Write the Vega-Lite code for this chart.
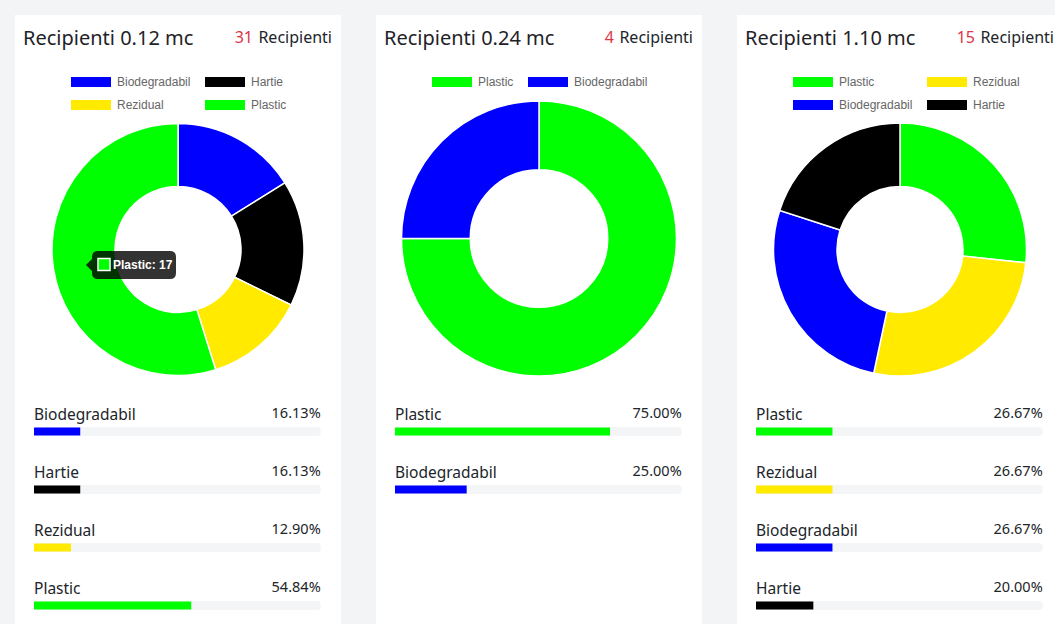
{
  "$schema": "https://vega.github.io/schema/vega-lite/v6.json",
  "background": "#f3f4f6",
  "padding": {"left": 15, "top": 15, "right": 0, "bottom": 0},
  "datasets": {
    "h1": [{"title": "Recipienti 0.12 mc", "count": 31, "unit": "Recipienti"}],
    "h2": [{"title": "Recipienti 0.24 mc", "count": 4, "unit": "Recipienti"}],
    "h3": [{"title": "Recipienti 1.10 mc", "count": 15, "unit": "Recipienti"}],
    "c1": [
      {"type": "Biodegradabil", "count": 5, "share": 0.16129, "rank": 1},
      {"type": "Hartie", "count": 5, "share": 0.16129, "rank": 2},
      {"type": "Rezidual", "count": 4, "share": 0.12903, "rank": 3},
      {"type": "Plastic", "count": 17, "share": 0.54839, "rank": 4}
    ],
    "c2": [
      {"type": "Plastic", "count": 3, "share": 0.75, "rank": 1},
      {"type": "Biodegradabil", "count": 1, "share": 0.25, "rank": 2}
    ],
    "c3": [
      {"type": "Plastic", "count": 4, "share": 0.26667, "rank": 1},
      {"type": "Rezidual", "count": 4, "share": 0.26667, "rank": 2},
      {"type": "Biodegradabil", "count": 4, "share": 0.26667, "rank": 3},
      {"type": "Hartie", "count": 3, "share": 0.2, "rank": 4}
    ],
    "tip": [{"label": "Plastic: 17"}]
  },
  "spacing": 35,
  "resolve": {"scale": {"color": "independent"}, "legend": {"color": "independent"}},
  "hconcat": [
    {
      "spacing": 0,
      "vconcat": [
        {
          "width": 326, "height": 103,
          "data": {"name": "h1"},
          "layer": [
            {"mark": {"type": "text", "align": "left", "baseline": "alphabetic", "font": "Noto Sans", "fontSize": 20, "color": "#1f2328", "dy": -22},
             "encoding": {"x": {"datum": 0, "type": "quantitative", "scale": {"domain": [0, 1], "range": [8, 317]}, "axis": null}, "text": {"field": "title"}}},
            {"mark": {"type": "text", "align": "right", "baseline": "alphabetic", "font": "Noto Sans", "fontSize": 16, "color": "#212529", "dy": -23.5},
             "encoding": {"x": {"datum": 1, "type": "quantitative"}, "text": {"field": "unit"}}},
            {"mark": {"type": "text", "align": "right", "baseline": "alphabetic", "font": "Noto Sans", "fontSize": 16, "color": "#dc3545", "dy": -23.5, "dx": -79},
             "encoding": {"x": {"datum": 1, "type": "quantitative"}, "text": {"field": "count"}}}
          ]
        },
        {
          "width": 326, "height": 263,
          "layer": [
            {"data": {"name": "h1"}, "mark": {"type": "rect", "color": "white"}, "encoding": {}},
            {"data": {"name": "c1"},
             "mark": {"type": "arc", "outerRadius": 126, "innerRadius": 63, "stroke": "white", "strokeWidth": 1.5},
             "encoding": {
               "theta": {"field": "count", "type": "quantitative", "stack": true},
               "order": {"field": "rank", "type": "quantitative"},
               "color": {"field": "type", "type": "nominal", "scale": {"domain": ["Biodegradabil", "Hartie", "Rezidual", "Plastic"], "range": ["#0000ff", "#000000", "#ffea00", "#00ff00"]}, "legend": {"title": null}}
             }},
            {"data": {"name": "tip"},
             "mark": {"type": "point", "shape": "M-0.857,-0.333L0.857,-0.333Q1,-0.333,1,-0.19L1,0.19Q1,0.333,0.857,0.333L-0.857,0.333Q-1,0.333,-1,0.19L-1,0.143L-1.143,0L-1,-0.143L-1,-0.19Q-1,-0.333,-0.857,-0.333Z", "size": 7056, "filled": true, "fill": "#000000", "fillOpacity": 0.8, "opacity": 1, "strokeWidth": 0, "xOffset": -44, "yOffset": 15.5},
             "encoding": {}},
            {"data": {"name": "tip"},
             "mark": {"type": "point", "shape": "square", "size": 144, "filled": true, "fill": "#00ff00", "stroke": "white", "strokeWidth": 1.5, "opacity": 1, "xOffset": -74, "yOffset": 15},
             "encoding": {}},
            {"data": {"name": "tip"},
             "mark": {"type": "text", "align": "left", "baseline": "middle", "dx": -65, "dy": 15, "font": "Liberation Sans", "fontWeight": "bold", "fontSize": 12, "color": "white"},
             "encoding": {"text": {"field": "label"}}}
          ]
        },
        {
          "width": 326, "height": 260,
          "data": {"name": "c1"},
          "encoding": {"y": {"field": "type", "type": "nominal", "sort": null, "scale": {"domain": ["Biodegradabil", "Hartie", "Rezidual", "Plastic"], "paddingInner": 0, "paddingOuter": 0.2414, "align": 0.768}, "axis": null}},
          "layer": [
            {"mark": {"type": "bar", "height": 9, "color": "#f4f5f7", "cornerRadius": 3},
             "encoding": {"x": {"datum": 1, "type": "quantitative", "scale": {"domain": [0, 1], "range": [19, 305.7]}, "axis": null}}},
            {"mark": {"type": "bar", "height": 8},
             "encoding": {"x": {"field": "share", "type": "quantitative"},
               "color": {"field": "type", "type": "nominal", "scale": {"domain": ["Biodegradabil", "Hartie", "Rezidual", "Plastic"], "range": ["#0000ff", "#000000", "#ffea00", "#00ff00"]}, "legend": {"title": null}}}},
            {"mark": {"type": "text", "align": "left", "baseline": "alphabetic", "dy": -11.5, "font": "Noto Sans", "fontSize": 15.5, "color": "#212529"},
             "encoding": {"x": {"datum": 0, "type": "quantitative"}, "text": {"field": "type"}}},
            {"mark": {"type": "text", "align": "right", "baseline": "alphabetic", "dy": -13.5, "font": "Noto Sans", "fontSize": 14.5, "color": "#212529"},
             "encoding": {"x": {"datum": 1, "type": "quantitative"}, "text": {"field": "share", "format": ".2%"}}}
          ]
        }
      ]
    },
    {
      "spacing": 0,
      "vconcat": [
        {
          "width": 326, "height": 81,
          "data": {"name": "h2"},
          "layer": [
            {"mark": {"type": "text", "align": "left", "baseline": "alphabetic", "font": "Noto Sans", "fontSize": 20, "color": "#1f2328", "dy": -11},
             "encoding": {"x": {"datum": 0, "type": "quantitative", "scale": {"domain": [0, 1], "range": [8, 317]}, "axis": null}, "text": {"field": "title"}}},
            {"mark": {"type": "text", "align": "right", "baseline": "alphabetic", "font": "Noto Sans", "fontSize": 16, "color": "#212529", "dy": -12.5},
             "encoding": {"x": {"datum": 1, "type": "quantitative"}, "text": {"field": "unit"}}},
            {"mark": {"type": "text", "align": "right", "baseline": "alphabetic", "font": "Noto Sans", "fontSize": 16, "color": "#dc3545", "dy": -12.5, "dx": -79},
             "encoding": {"x": {"datum": 1, "type": "quantitative"}, "text": {"field": "count"}}}
          ]
        },
        {
          "width": 326, "height": 285,
          "layer": [
            {"data": {"name": "h2"}, "mark": {"type": "rect", "color": "white"}, "encoding": {}},
            {"data": {"name": "c2"},
             "mark": {"type": "arc", "outerRadius": 137.5, "innerRadius": 68.75, "stroke": "white", "strokeWidth": 1.5},
             "encoding": {
               "theta": {"field": "count", "type": "quantitative", "stack": true},
               "order": {"field": "rank", "type": "quantitative"},
               "color": {"field": "type", "type": "nominal", "scale": {"domain": ["Plastic", "Biodegradabil"], "range": ["#00ff00", "#0000ff"]}, "legend": {"title": null}}
             }}
          ]
        },
        {
          "width": 326, "height": 232,
          "data": {"name": "c2"},
          "encoding": {"y": {"field": "type", "type": "nominal", "sort": null, "scale": {"domain": ["Plastic", "Biodegradabil"], "paddingInner": 0, "paddingOuter": 1, "align": 0.1853}, "axis": null}},
          "layer": [
            {"mark": {"type": "bar", "height": 9, "color": "#f4f5f7", "cornerRadius": 3},
             "encoding": {"x": {"datum": 1, "type": "quantitative", "scale": {"domain": [0, 1], "range": [19, 305.7]}, "axis": null}}},
            {"mark": {"type": "bar", "height": 8},
             "encoding": {"x": {"field": "share", "type": "quantitative"},
               "color": {"field": "type", "type": "nominal", "scale": {"domain": ["Plastic", "Biodegradabil"], "range": ["#00ff00", "#0000ff"]}, "legend": {"title": null}}}},
            {"mark": {"type": "text", "align": "left", "baseline": "alphabetic", "dy": -11.5, "font": "Noto Sans", "fontSize": 15.5, "color": "#212529"},
             "encoding": {"x": {"datum": 0, "type": "quantitative"}, "text": {"field": "type"}}},
            {"mark": {"type": "text", "align": "right", "baseline": "alphabetic", "dy": -13.5, "font": "Noto Sans", "fontSize": 14.5, "color": "#212529"},
             "encoding": {"x": {"datum": 1, "type": "quantitative"}, "text": {"field": "share", "format": ".2%"}}}
          ]
        },
        {
          "width": 326, "height": 30,
          "data": {"name": "h2"},
          "mark": {"type": "rect", "color": "white"},
          "encoding": {}
        }
      ]
    },
    {
      "spacing": 0,
      "vconcat": [
        {
          "width": 326, "height": 103,
          "data": {"name": "h3"},
          "layer": [
            {"mark": {"type": "text", "align": "left", "baseline": "alphabetic", "font": "Noto Sans", "fontSize": 20, "color": "#1f2328", "dy": -22},
             "encoding": {"x": {"datum": 0, "type": "quantitative", "scale": {"domain": [0, 1], "range": [8, 317]}, "axis": null}, "text": {"field": "title"}}},
            {"mark": {"type": "text", "align": "right", "baseline": "alphabetic", "font": "Noto Sans", "fontSize": 16, "color": "#212529", "dy": -23.5},
             "encoding": {"x": {"datum": 1, "type": "quantitative"}, "text": {"field": "unit"}}},
            {"mark": {"type": "text", "align": "right", "baseline": "alphabetic", "font": "Noto Sans", "fontSize": 16, "color": "#dc3545", "dy": -23.5, "dx": -79},
             "encoding": {"x": {"datum": 1, "type": "quantitative"}, "text": {"field": "count"}}}
          ]
        },
        {
          "width": 326, "height": 263,
          "layer": [
            {"data": {"name": "h3"}, "mark": {"type": "rect", "color": "white"}, "encoding": {}},
            {"data": {"name": "c3"},
             "mark": {"type": "arc", "outerRadius": 126.5, "innerRadius": 63, "stroke": "white", "strokeWidth": 1.5},
             "encoding": {
               "theta": {"field": "count", "type": "quantitative", "stack": true},
               "order": {"field": "rank", "type": "quantitative"},
               "color": {"field": "type", "type": "nominal", "scale": {"domain": ["Plastic", "Rezidual", "Biodegradabil", "Hartie"], "range": ["#00ff00", "#ffea00", "#0000ff", "#000000"]}, "legend": {"title": null}}
             }}
          ]
        },
        {
          "width": 326, "height": 260,
          "data": {"name": "c3"},
          "encoding": {"y": {"field": "type", "type": "nominal", "sort": null, "scale": {"domain": ["Plastic", "Rezidual", "Biodegradabil", "Hartie"], "paddingInner": 0, "paddingOuter": 0.2414, "align": 0.768}, "axis": null}},
          "layer": [
            {"mark": {"type": "bar", "height": 9, "color": "#f4f5f7", "cornerRadius": 3},
             "encoding": {"x": {"datum": 1, "type": "quantitative", "scale": {"domain": [0, 1], "range": [19, 305.7]}, "axis": null}}},
            {"mark": {"type": "bar", "height": 8},
             "encoding": {"x": {"field": "share", "type": "quantitative"},
               "color": {"field": "type", "type": "nominal", "scale": {"domain": ["Plastic", "Rezidual", "Biodegradabil", "Hartie"], "range": ["#00ff00", "#ffea00", "#0000ff", "#000000"]}, "legend": {"title": null}}}},
            {"mark": {"type": "text", "align": "left", "baseline": "alphabetic", "dy": -11.5, "font": "Noto Sans", "fontSize": 15.5, "color": "#212529"},
             "encoding": {"x": {"datum": 0, "type": "quantitative"}, "text": {"field": "type"}}},
            {"mark": {"type": "text", "align": "right", "baseline": "alphabetic", "dy": -13.5, "font": "Noto Sans", "fontSize": 14.5, "color": "#212529"},
             "encoding": {"x": {"datum": 1, "type": "quantitative"}, "text": {"field": "share", "format": ".2%"}}}
          ]
        }
      ]
    }
  ],
  "config": {
    "view": {"fill": "white", "stroke": null},
    "legend": {
      "orient": "none", "legendX": 55, "legendY": 61, "direction": "horizontal", "columns": 2,
      "symbolType": "M-1,-1H7V1H-1Z", "symbolSize": 100, "symbolStrokeWidth": 0,
      "labelFont": "Liberation Sans", "labelFontSize": 12, "labelColor": "#666666", "labelOffset": 35,
      "columnPadding": 13, "rowPadding": 11, "padding": 0, "gridAlign": "none"
    }
  }
}
